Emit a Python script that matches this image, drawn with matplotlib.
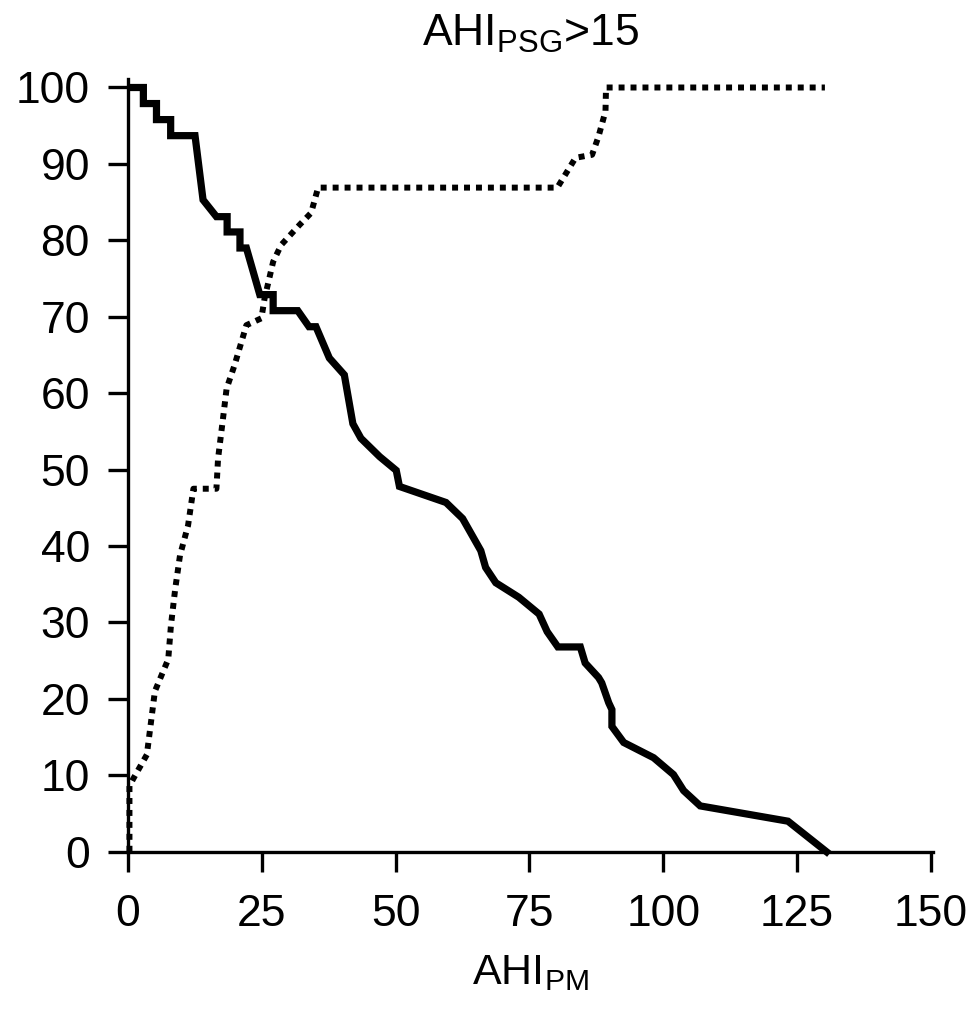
import matplotlib
matplotlib.use("Agg")
import matplotlib.pyplot as plt

# --- Data ---
# sensitivity (solid) vs AHI_PM threshold
sens_x = [0.7, 2.85, 2.85, 5.3, 5.3, 7.95, 7.95, 12.5, 14.0, 16.5, 18.5, 18.5,
          20.9, 20.9, 22.1, 24.6, 27.1, 27.1, 31.7, 33.8, 35.1, 37.6, 40.4,
          42.0, 43.5, 47.0, 50.1, 50.7, 59.4, 62.5, 65.9, 66.8, 68.7, 73.0,
          76.8, 78.3, 80.3, 84.5, 85.4, 87.9, 88.5, 89.8, 90.4, 90.4, 92.6,
          98.2, 101.9, 103.8, 106.9, 123.3, 130.5]
sens_y = [100, 100, 97.9, 97.9, 95.8, 95.8, 93.7, 93.7, 85.3, 83.1, 83.1, 81.1,
          81.1, 79.0, 79.0, 72.9, 72.9, 70.8, 70.8, 68.7, 68.7, 64.6, 62.4,
          56.0, 54.1, 51.7, 49.9, 47.8, 45.7, 43.6, 39.4, 37.2, 35.2, 33.3,
          31.1, 28.8, 26.8, 26.8, 24.7, 22.8, 22.1, 19.5, 18.6, 16.4, 14.3,
          12.3, 10.1, 8.0, 6.0, 4.0, 0]

# specificity (dotted)
spec_x = [0.25, 0.25, 1.0, 3.5, 4.1, 5.0, 7.5, 8.0, 8.8, 9.7, 11.2, 12.2, 16.5,
          16.8, 17.8, 18.4, 19.9, 22.1, 24.9, 25.5, 27.1, 28.6, 32.0, 34.2,
          35.5, 80.2, 83.6, 86.7, 87.9, 89.2, 89.3, 130.2]
spec_y = [0, 8.6, 9.6, 12.7, 16.0, 21.0, 25.2, 29.6, 34.4, 38.8, 42.7, 47.5, 47.5,
          51.4, 57.1, 60.6, 63.7, 68.9, 69.8, 72.4, 77.2, 79.4, 82.0, 83.6,
          86.9, 86.9, 90.8, 91.2, 93.6, 96.9, 100, 100]

x_ticks = [0, 25, 50, 75, 100, 125, 150]
y_ticks = [0, 10, 20, 30, 40, 50, 60, 70, 80, 90, 100]

plt.rcParams['font.family'] = ['Liberation Sans', 'DejaVu Sans']
plt.rcParams['mathtext.default'] = 'regular'

fig = plt.figure(figsize=(9.78, 10.14), dpi=100)
ax = fig.add_axes([0.131, 0.160, 0.823, 0.762])

ax.plot(sens_x, sens_y, color='black', lw=5.2, solid_joinstyle='miter', clip_on=False)
ax.plot(spec_x, spec_y, color='black', lw=4.3, linestyle=(0, (1, 1.0)), clip_on=False)

ax.set_xlim(0, 150.4)
ax.set_ylim(0, 101.1)
ax.set_xticks(x_ticks)
ax.set_yticks(y_ticks)
ax.tick_params(direction='out', length=14.5, width=2.4, labelsize=32)
ax.tick_params(axis='x', pad=16)
ax.tick_params(axis='y', pad=13)

for side in ['top', 'right']:
    ax.spines[side].set_visible(False)
for side in ['left', 'bottom']:
    ax.spines[side].set_linewidth(2.4)

ax.set_title(r'AHI$_{PSG}$>15', fontsize=32, pad=24)
ax.set_xlabel(r'AHI$_{PM}$', fontsize=31, labelpad=13)

fig.savefig('out.png', dpi=100)
